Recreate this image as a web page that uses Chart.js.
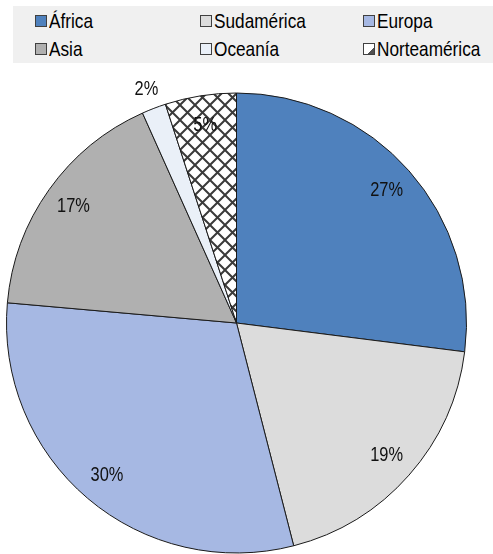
<!DOCTYPE html>
<html>
<head>
<meta charset="utf-8">
<script src="https://cdn.jsdelivr.net/npm/chart.js@4"></script>
<style>
  html, body { margin: 0; padding: 0; background: #fff; }
  #wrap { position: relative; width: 493px; height: 554px; overflow: hidden; }
  #c { position: absolute; left: 0; top: 0; }
  #legend { position: absolute; left: 13px; top: 6px; width: 480px; height: 57px; background: #f0f0f0;
            font-family: 'Liberation Sans', Arial, sans-serif; font-size: 21px; color: #000; }
  .item { position: absolute; height: 24px; line-height: 24px; white-space: nowrap; }
  .mk { position: absolute; left: 0; top: 6px; width: 10px; height: 10px; border: 1px solid #404040; }
  .tx { position: absolute; left: 14px; top: 0; transform: scaleX(0.82); transform-origin: 0 50%; }
</style>
</head>
<body>
<div id="wrap">
  <canvas id="c" width="493" height="554"></canvas>
  <div id="legend"></div>
</div>
<script>
const categories = ['África', 'Sudamérica', 'Europa', 'Asia', 'Oceanía', 'Norteamérica'];
const shares = [27.0, 19.0, 30.4, 16.9, 1.7, 5.0];
const sliceColors = ['#4f81bd', '#dcdcdc', '#a6b8e3', '#b0b0b0', '#eaf0f8', 'pattern'];

function makeHatch(size, lw) {
  const t = document.createElement('canvas');
  t.width = size; t.height = size;
  const g = t.getContext('2d');
  g.fillStyle = '#ffffff'; g.fillRect(0, 0, size, size);
  g.strokeStyle = '#3a3a3a'; g.lineWidth = lw;
  g.beginPath();
  g.moveTo(-1, -1); g.lineTo(size + 1, size + 1);
  g.moveTo(size + 1, -1); g.lineTo(-1, size + 1);
  g.stroke();
  return t;
}

const ctx = document.getElementById('c').getContext('2d');
const hatch = ctx.createPattern(makeHatch(15, 2), 'repeat');
const fills = sliceColors.map(c => c === 'pattern' ? hatch : c);

// HTML legend (3 columns x 2 rows)
const legendPos = [[22, 3], [187, 3], [350, 3], [22, 31], [187, 31], [350, 31]];
const legend = document.getElementById('legend');
categories.forEach((name, i) => {
  const it = document.createElement('div');
  it.className = 'item';
  it.style.left = legendPos[i][0] + 'px';
  it.style.top = legendPos[i][1] + 'px';
  const mk = document.createElement('span');
  mk.className = 'mk';
  if (sliceColors[i] === 'pattern') {
    mk.style.background = 'linear-gradient(135deg, #ffffff 68%, #505050 68%)';
  } else {
    mk.style.background = sliceColors[i];
  }
  const tx = document.createElement('span');
  tx.className = 'tx';
  tx.textContent = name;
  it.appendChild(mk); it.appendChild(tx);
  legend.appendChild(it);
});

const pctLabels = {
  id: 'pctLabels',
  afterDatasetsDraw(chart) {
    const c = chart.ctx;
    const meta = chart.getDatasetMeta(0);
    meta.data.forEach((arc, i) => {
      const v = shares[i];
      const mid = (arc.startAngle + arc.endAngle) / 2;
      const f = v < 3 ? 1.09 : 0.87;
      const r = arc.outerRadius * f;
      const x = arc.x + Math.cos(mid) * r;
      const y = arc.y + Math.sin(mid) * r;
      c.save();
      c.font = '20px "Liberation Sans", Arial, sans-serif';
      c.fillStyle = '#111';
      c.textAlign = 'center';
      c.textBaseline = 'middle';
      c.translate(x, y);
      c.scale(0.82, 1);
      c.fillText(Math.round(v) + '%', 0, 0);
      c.restore();
    });
  }
};

new Chart(ctx, {
  type: 'pie',
  data: {
    labels: categories,
    datasets: [{
      data: shares,
      backgroundColor: fills,
      borderColor: '#1a1a1a',
      borderWidth: 1,
      hoverOffset: 0,
      offset: 0
    }]
  },
  options: {
    responsive: false,
    animation: false,
    layout: { padding: { left: 6, right: 26, top: 92, bottom: 0 } },
    plugins: {
      legend: { display: false },
      tooltip: { enabled: false }
    }
  },
  plugins: [pctLabels]
});
</script>
</body>
</html>
